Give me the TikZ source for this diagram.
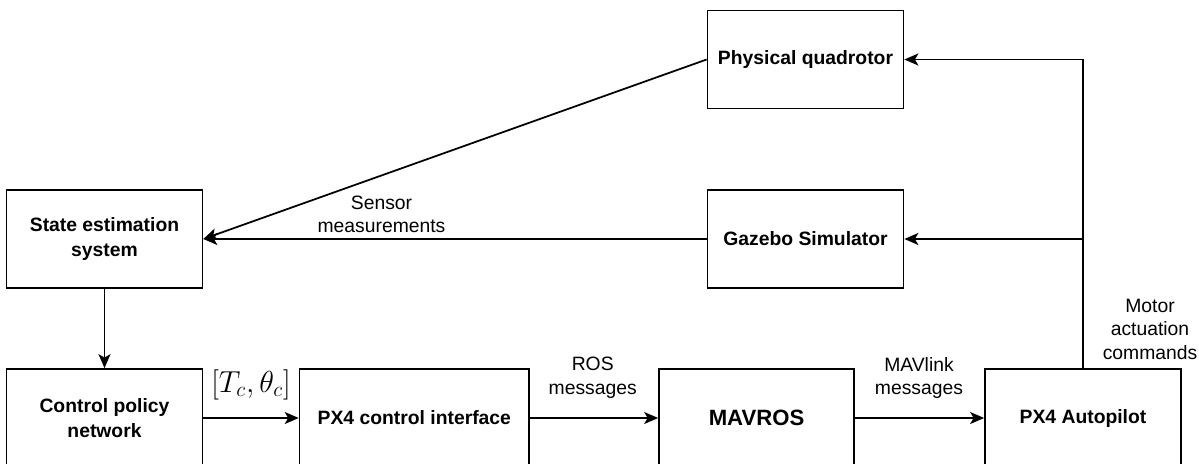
\documentclass[tikz,border=0pt]{standalone}
\usepackage[no-math]{fontspec}
\setmainfont{Liberation Sans}
\usetikzlibrary{arrows.meta}

\begin{document}
\begin{tikzpicture}[
    x=0.02cm, y=-0.02cm,
    font=\fontsize{11}{14}\selectfont,
    block/.style={draw=black, line width=1pt, inner sep=0pt, align=center,
      minimum width=3.92cm, minimum height=1.96cm,
      font=\fontsize{11}{14.2}\selectfont\bfseries},
    wire/.style={draw=black, line width=1pt},
    link/.style={wire, -{Stealth[length=0.28cm, width=0.24cm, inset=0.07cm]}},
    tag/.style={font=\fontsize{11}{13.4}\selectfont, align=center, inner sep=0pt}
]
% page = 1199 x 463 px, the bottom row runs off the lower edge
\useasboundingbox (0,0) rectangle (1199,463);
\clip (0,0) rectangle (1199,463);

% plant side
\node[block] (quad) at (805.5,59.5) {Physical quadrotor};
\node[block] (gazebo) at (805.5,239) {Gazebo Simulator};

% estimation and control chain
\node[block] (state) at (104.5,239) {State estimation\\system};
\node[block] (policy) at (104.5,418) {Control policy\\network};
\node[block, minimum width=4.59cm] (iface) at (414.3,418) {PX4 control interface};
\node[block, minimum width=3.9cm, font=\fontsize{12.6}{15}\selectfont\bfseries]
  (mavros) at (756.5,418) {MAVROS};
\node[block] (px4) at (1083,418) {PX4 Autopilot};

% feedback
\draw[link] (quad.west) -- (state.east);
\draw[link] (gazebo.west) -- (state.east);
\node[tag] (sensor) at (381.5,214.5) {Sensor\\measurements};

% forward path
\draw[link] (state.south) -- (policy.north);
\draw[link] (policy.east) -- (iface.west);
\draw[link] (iface.east) -- (mavros.west);
\draw[link] (mavros.east) -- (px4.west);
\node[anchor=base, inner sep=0pt, font=\fontsize{17.5}{20}\selectfont]
  (cmd) at (251,392) {$[T_c,\theta_c]$};
\node[tag] (ros) at (592.7,377.5) {ROS\\messages};
\node[tag] (mavlink) at (919,378) {MAVlink\\messages};

% motor commands back up to both plants
\coordinate (split) at (px4.north |- gazebo.east);
\draw[link] (px4.north) |- (quad.east);
\draw[link] (split) -- (gazebo.east);
\node[tag] (motor) at (1150,329) {Motor\\actuation\\commands};
\end{tikzpicture}
\end{document}
